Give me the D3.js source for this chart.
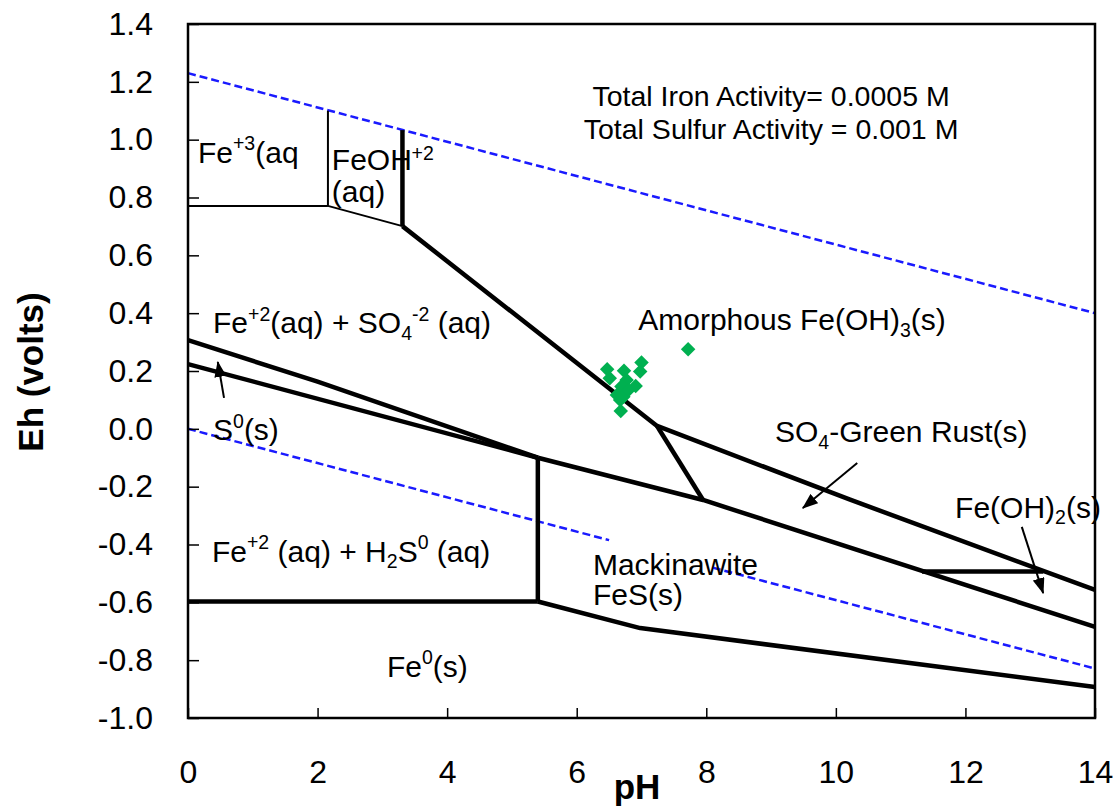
<html>
<head>
<title>Eh-pH diagram</title>
<script src="https://cdnjs.cloudflare.com/ajax/libs/d3/7.8.5/d3.min.js"></script>
<style>
    body { margin: 0; background: #fff; }
    svg text { font-family: "Liberation Sans", Arial, sans-serif; fill: #000; white-space: pre; }
</style>
</head>
<body>
<svg id="chart"></svg>
<script>
const WIDTH = 1120
const HEIGHT = 808
const MARGIN = { left: 188, top: 24, right: 25, bottom: 90 }

// axis ticks
const phTicks = [0, 2, 4, 6, 8, 10, 12, 14]
const ehTicks = [1.4, 1.2, 1.0, 0.8, 0.6, 0.4, 0.2, 0.0, -0.2, -0.4, -0.6, -0.8, -1.0]

// water stability lines [pH, Eh] (null = gap behind the Mackinawite label)
const waterUpper = [[0, 1.23], [14, 0.40]]
const waterLower = [[0, 0.0], [6.5, -0.385], null, [8.1, -0.48], [14, -0.829]]

// thin boundaries (Fe+3 / FeOH+2)
const fe3Floor = [[0, 0.771], [2.16, 0.771]]
const fe3Wall = [[2.16, 0.771], [2.16, 1.10]]
const feohFloor = [[2.16, 0.771], [3.31, 0.701]]

// thick boundaries
const feohWall = [[3.31, 0.701], [3.31, 1.033]]
const ferrihydrite = [[3.31, 0.701], [7.24, 0.010], [10.22, -0.245], [14, -0.557]]
const greenRust = [[7.24, 0.010], [7.95, -0.246]]
const sulfurUpper = [[0, 0.307], [2.0, 0.163], [5.40, -0.10]]
const sulfurLower = [[0, 0.224], [5.40, -0.10]]
const fesTop = [[5.40, -0.10], [7.95, -0.246], [14, -0.685]]
const fesWall = [[5.40, -0.10], [5.40, -0.597]]
const fe0Top = [[0, -0.597], [5.40, -0.597]]
const fe0Bottom = [[5.40, -0.597], [6.98, -0.689], [14, -0.893]]
const feoh2Top = [[11.33, -0.493], [13.2, -0.493]]

// measured samples
const samplePH = [7.72, 7.00, 6.98, 6.47, 6.73, 6.51, 6.77, 6.91, 6.69, 6.62, 6.72, 6.67, 6.68, 6.80]
const sampleEh = [0.275, 0.229, 0.198, 0.206, 0.201, 0.175, 0.169, 0.148, 0.146, 0.117, 0.111, 0.100, 0.062, 0.134]

// arrows [from, to]
const arrows = [
    [[0.556, 0.107], [0.46, 0.231]],
    [[10.33, -0.118], [9.49, -0.274]],
    [[12.87, -0.339], [13.2, -0.568]]
]

// region labels: anchor (pH, Eh of baseline start) and text parts
const labels = [
    { ph: 0.154, eh: 0.919, parts: [["Fe"], ["+3", "sup"], ["(aq"]] },
    { ph: 2.22, eh: 0.895, parts: [["FeOH"]] },
    { ph: 3.45, eh: 0.930, parts: [["+2", "small"]] },
    { ph: 2.22, eh: 0.784, parts: [["(aq)"]] },
    { ph: 0.386, eh: 0.331, parts: [["Fe"], ["+2", "sup"], ["(aq) + SO"], ["4", "sub"], ["-2", "sup"], [" (aq)"]] },
    { ph: 0.386, eh: -0.039, parts: [["S"], ["0", "sup"], ["(s)"]] },
    { ph: 0.37, eh: -0.460, parts: [["Fe"], ["+2", "sup"], [" (aq) + H"], ["2", "sub"], ["S"], ["0", "sup"], [" (aq)"]] },
    { ph: 3.07, eh: -0.858, parts: [["Fe"], ["0", "sup"], ["(s)"]] },
    { ph: 6.25, eh: -0.505, parts: [["Mackinawite"]] },
    { ph: 6.25, eh: -0.609, parts: [["FeS(s)"]] },
    { ph: 9.06, eh: -0.046, parts: [["SO"], ["4", "sub"], ["-Green Rust(s)"]] },
    { ph: 11.84, eh: -0.308, parts: [["Fe(OH)"], ["2", "sub"], ["(s)"]] },
    { ph: 6.95, eh: 0.342, parts: [["Amorphous Fe(OH)"], ["3", "sub"], ["(s)"]] }
]
const noteLines = ["Total Iron Activity= 0.0005 M", "Total Sulfur Activity = 0.001 M"]

function richText(g, x, y, parts, size) {
    const t = g.append("text").attr("x", x).attr("y", y).style("font-size", size + "px")
    let shift = 0
    parts.forEach(p => {
        const kind = p[1]
        let target = 0
        if (kind === "sup") target = -0.42 * size
        if (kind === "sub") target = 0.22 * size
        const ts = t.append("tspan").text(p[0]).attr("dy", target - shift)
        if (kind) ts.style("font-size", (0.65 * size) + "px")
        shift = target
    })
}

function drawChart() {
    const svg = d3.select("#chart").attr("width", WIDTH).attr("height", HEIGHT)

    const x = d3.scaleLinear().domain([0, 14]).range([MARGIN.left, WIDTH - MARGIN.right])
    const y = d3.scaleLinear().domain([-1.0, 1.4]).range([HEIGHT - MARGIN.bottom, MARGIN.top])

    const line = d3.line().defined(d => d != null).x(d => x(d[0])).y(d => y(d[1]))

    svg.append("defs").append("marker")
        .attr("id", "head")
        .attr("markerUnits", "userSpaceOnUse")
        .attr("markerWidth", 16).attr("markerHeight", 12)
        .attr("refX", 15).attr("refY", 6)
        .attr("orient", "auto")
        .append("path").attr("d", "M0,0 L16,6 L0,12 Z").attr("fill", "#000")

    // water lines
    svg.selectAll(".water").data([waterUpper, waterLower]).enter()
        .append("path")
        .attr("class", "water")
        .attr("d", line)
        .attr("fill", "none")
        .attr("stroke", "#1a1aff")
        .attr("stroke-width", 2.5)
        .attr("stroke-dasharray", "8,4")

    svg.selectAll(".thin").data([fe3Floor, fe3Wall, feohFloor]).enter()
        .append("path")
        .attr("class", "thin")
        .attr("d", line)
        .attr("fill", "none")
        .attr("stroke", "#000")
        .attr("stroke-width", 2)

    svg.selectAll(".thick").data([feohWall, ferrihydrite, greenRust, sulfurUpper, sulfurLower,
            fesTop, fesWall, fe0Top, fe0Bottom, feoh2Top]).enter()
        .append("path")
        .attr("class", "thick")
        .attr("d", line)
        .attr("fill", "none")
        .attr("stroke", "#000")
        .attr("stroke-width", 4.5)
        .attr("stroke-linejoin", "round")

    // frame
    svg.append("rect")
        .attr("x", MARGIN.left).attr("y", MARGIN.top)
        .attr("width", WIDTH - MARGIN.left - MARGIN.right)
        .attr("height", HEIGHT - MARGIN.top - MARGIN.bottom)
        .attr("fill", "none").attr("stroke", "#000").attr("stroke-width", 2.5)

    // axes
    const xAxis = svg.append("g")
        .attr("transform", `translate(0,${HEIGHT - MARGIN.bottom})`)
        .call(d3.axisBottom(x).tickValues(phTicks).tickFormat(d3.format("d"))
            .tickSizeInner(-10).tickSizeOuter(0).tickPadding(42))
    const yAxis = svg.append("g")
        .attr("transform", `translate(${MARGIN.left},0)`)
        .call(d3.axisLeft(y).tickValues(ehTicks).tickFormat(d => d.toFixed(1))
            .tickSizeInner(-11).tickSizeOuter(0).tickPadding(35))
    ;[xAxis, yAxis].forEach(a => {
        a.select(".domain").remove()
        a.selectAll(".tick line").attr("stroke", "#000").attr("stroke-width", 1.5)
        a.selectAll(".tick text").style("font-size", "32px").style("font-family", '"Liberation Sans", Arial, sans-serif').attr("fill", "#000")
    })

    svg.append("text")
        .text("pH")
        .attr("x", 637).attr("y", 799)
        .attr("text-anchor", "middle")
        .style("font-size", "35px").style("font-weight", "bold")
    svg.append("text")
        .text("Eh (volts)")
        .attr("transform", "translate(43,372) rotate(-90)")
        .attr("text-anchor", "middle")
        .style("font-size", "35px").style("font-weight", "bold")

    // arrows
    svg.selectAll(".arrow").data(arrows).enter()
        .append("path")
        .attr("class", "arrow")
        .attr("d", line)
        .attr("stroke", "#000")
        .attr("stroke-width", 2)
        .attr("marker-end", "url(#head)")

    // samples
    svg.selectAll(".sample").data(samplePH).enter()
        .append("path")
        .attr("class", "sample")
        .attr("d", d3.symbol(d3.symbolSquare, 105))
        .attr("transform", (d, i) => `translate(${x(d)},${y(sampleEh[i])}) rotate(45)`)
        .attr("fill", "#00b050")

    // labels
    const lg = svg.append("g")
    labels.forEach(l => {
        const small = l.parts.length === 1 && l.parts[0][1] === "small"
        if (small) {
            lg.append("text").text(l.parts[0][0]).attr("x", x(l.ph)).attr("y", y(l.eh)).style("font-size", "19.5px")
        } else {
            richText(lg, x(l.ph), y(l.eh), l.parts, 30)
        }
    })

    lg.selectAll(".note").data(noteLines).enter()
        .append("text")
        .attr("class", "note")
        .text(d => d)
        .attr("x", x(9.0))
        .attr("y", (d, i) => 106 + i * 33)
        .attr("text-anchor", "middle")
        .style("font-size", "28.5px")
}

function main() {
    drawChart()
}

main()
</script>
</body>
</html>
